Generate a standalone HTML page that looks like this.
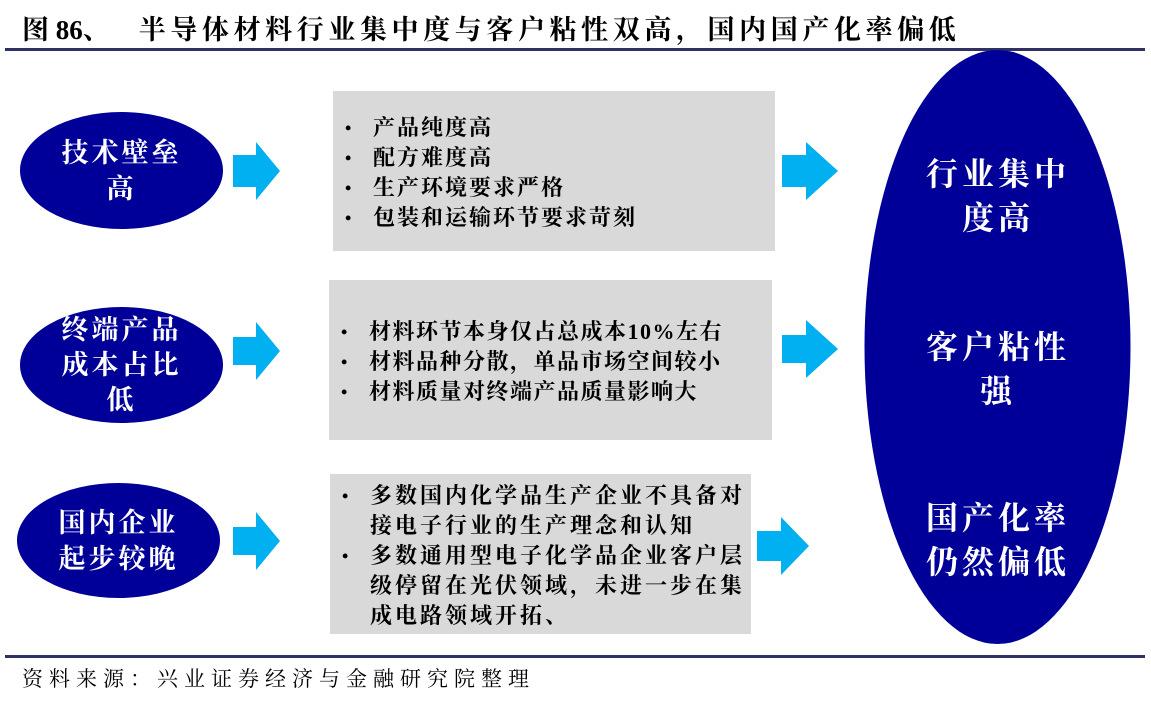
<!DOCTYPE html>
<html><head><meta charset="utf-8"><style>
body{margin:0;width:1151px;height:702px;background:#fff;position:relative;overflow:hidden;font-family:"Liberation Serif","Noto Serif CJK SC",serif;}
.abs{position:absolute}
.title{left:22px;top:8px;font-size:27px;font-weight:bold;color:#000;white-space:nowrap;letter-spacing:4.6px}
.line{left:5px;width:1140px;height:3px;background:#2f3163}
.ell{position:absolute;background:#000099;border-radius:50%;color:#fff;display:flex;align-items:center;justify-content:center;text-align:center;font-weight:bold;font-size:27px;line-height:36px;letter-spacing:3px}
.box{position:absolute;background:#d9d9d9;font-size:22px;line-height:30px;color:#000;font-weight:bold;letter-spacing:2px}
.box ul{margin:0;padding:0;list-style:none}
.box li{position:relative;padding-left:40px}
.box li:before{content:"•";position:absolute;left:12px;font-size:18px}
.big{position:absolute;color:#fff;font-weight:bold;font-size:32px;line-height:44px;text-align:center;width:266px;left:865px;letter-spacing:4px}
</style></head><body>
<div class="abs title"><span style="letter-spacing:0">图 86、</span><span style="display:inline-block;width:29px"></span>半导体材料行业集中度与客户粘性双高，国内国产化率偏低</div>
<div class="abs line" style="top:48px"></div>

<div class="ell" style="left:20px;top:112px;width:203px;height:117px">技术壁垒<br>高</div>
<div class="ell" style="left:20px;top:307px;width:203px;height:116px;line-height:35px">终端产品<br>成本占比<br>低</div>
<div class="ell" style="left:17px;top:483px;width:203px;height:115px">国内企业<br>起步较晚</div>

<svg class="abs" style="left:0;top:0" width="1151" height="702">
<g fill="#00b0f0">
<polygon points="233,155 256,155 256,142 280,171 256,200 256,187 233,187"/>
<polygon points="233,337 256,337 256,322 280,351 256,380 256,365 233,365"/>
<polygon points="233,527 256,527 256,512 280,541 256,570 256,555 233,555"/>
<polygon points="782,155 806,155 806,142 838,171 806,200 806,187 782,187"/>
<polygon points="782,335 806,335 806,320 838,349 806,378 806,363 782,363"/>
<polygon points="757,531 781,531 781,517 809,546 781,575 781,561 757,561"/>
</g>
<ellipse cx="997.5" cy="347" rx="133" ry="297" fill="#000099"/>
</svg>

<div class="box" style="left:333px;top:91px;width:442px;height:160px"><ul style="margin-top:22px"><li>产品纯度高</li><li>配方难度高</li><li>生产环境要求严格</li><li>包装和运输环节要求苛刻</li></ul></div>
<div class="box" style="left:329px;top:280px;width:443px;height:160px;letter-spacing:1.5px"><ul style="margin-top:37px"><li>材料环节本身仅占总成本10%左右</li><li>材料品种分散，单品市场空间较小</li><li>材料质量对终端产品质量影响大</li></ul></div>
<div class="box" style="left:330px;top:474px;width:421px;height:160px;letter-spacing:3px"><ul style="margin-top:7px"><li>多数国内化学品生产企业不具备对<br>接电子行业的生产理念和认知</li><li>多数通用型电子化学品企业客户层<br>级停留在光伏领域，未进一步在集<br>成电路领域开拓、</li></ul></div>

<div class="big" style="top:152px">行业集中<br>度高</div>
<div class="big" style="top:325px">客户粘性<br>强</div>
<div class="big" style="top:496px">国产化率<br>仍然偏低</div>

<div class="abs line" style="top:655px"></div>
<div class="abs" style="left:22px;top:663px;font-size:21px;color:#000;white-space:nowrap;letter-spacing:6px">资料来源：兴业证券经济与金融研究院整理</div>
</body></html>
